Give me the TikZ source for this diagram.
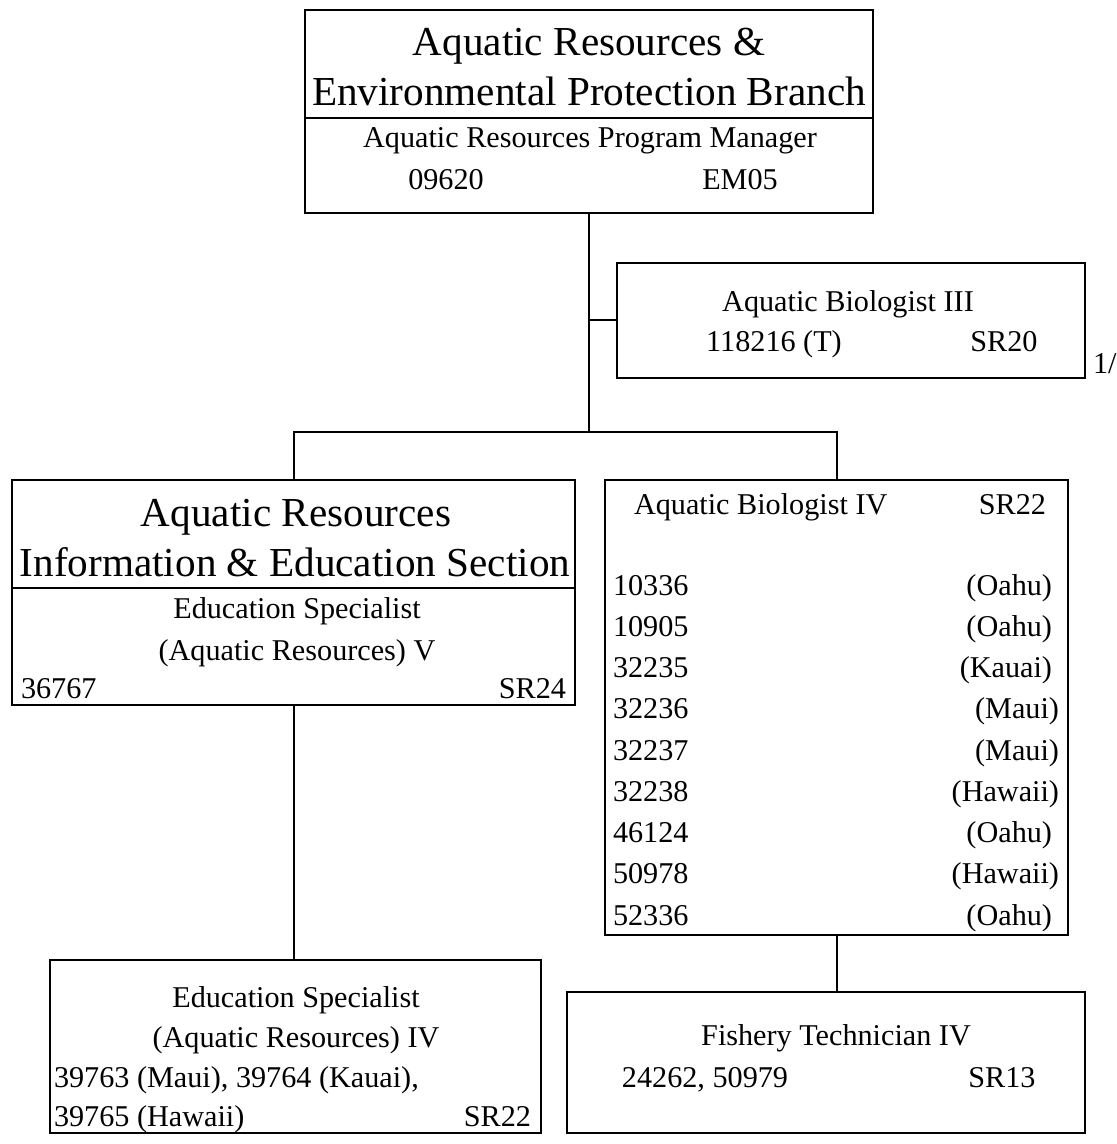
\documentclass[tikz,border=0pt]{standalone}
\usepackage{fontspec}
\setmainfont{Liberation Serif}
\newcommand{\bigtxt}{\fontsize{20.6pt}{24pt}\selectfont}
\newcommand{\smalltxt}{\fontsize{15.1pt}{18pt}\selectfont}

\begin{document}
\begin{tikzpicture}[
    x=0.5pt, y=-0.5pt,
    line width=1pt,
    unit/.style={rectangle, draw, line width=1pt, inner sep=0pt},
    title/.style={anchor=base, inner sep=0pt, font=\bigtxt},
    entry/.style={anchor=base, inner sep=0pt, font=\smalltxt},
    entryL/.style={entry, anchor=base west},
    entryR/.style={entry, anchor=base east}
]
    \useasboundingbox (0,0) rectangle (1116,1144);

    % Branch box
    \node[unit, minimum width=284pt, minimum height=101.5pt] (branch) at (589,111.5) {};
    \draw (branch.west |- 0,118) -- (branch.east |- 0,118);
    \node[title] (branchA) at (589,56) {Aquatic Resources \&};
    \node[title] (branchB) at (589,106) {Environmental Protection Branch};
    \node[entry] (branchC) at (590,148) {Aquatic Resources Program Manager};
    \node[entry] (branchD) at (446,190) {09620};
    \node[entry] (branchE) at (740,190) {EM05};

    % Aquatic Biologist III (staff)
    \node[unit, minimum width=234pt, minimum height=57.5pt] (bio3) at (851,320.5) {};
    \node[entry] (bio3A) at (848,312) {Aquatic Biologist III};
    \node[entry] (bio3B) at (774,351) {118216 (T)};
    \node[entry] (bio3C) at (1004,351) {SR20};
    \node[entryL] (note) at (1092,373) {1/};

    % Section box
    \node[unit, minimum width=281.5pt, minimum height=112.5pt] (sect) at (293.5,592.5) {};
    \draw (sect.west |- 0,588) -- (sect.east |- 0,588);
    \node[title] (sectA) at (296,526) {Aquatic Resources};
    \node[title] (sectB) at (295,576) {Information \& Education Section};
    \node[entry] (sectC) at (297,618) {Education Specialist};
    \node[entry] (sectD) at (297,660) {(Aquatic Resources) V};
    \node[entryL] (sectE) at (20,698) {36767};
    \node[entryR] (sectF) at (567,698) {SR24};

    % Aquatic Biologist IV
    \node[unit, minimum width=231.5pt, minimum height=227.5pt] (bio4) at (836.5,707.5) {};
    \node[entryL] (bio4A) at (633,514) {Aquatic Biologist IV};
    \node[entryR] (bio4B) at (1047,514) {SR22};
    \foreach \num/\isle/\ix [count=\i from 0] in {10336/Oahu/1053, 10905/Oahu/1053,
        32235/Kauai/1053, 32236/Maui/1060, 32237/Maui/1060, 32238/Hawaii/1060,
        46124/Oahu/1053, 50978/Hawaii/1060, 52336/Oahu/1053} {
        \node[entryL] (pos\i) at (612,{595+41.25*\i}) {\num};
        \node[entryR] (isle\i) at (\ix,{595+41.25*\i}) {(\isle)};
    }

    % Education Specialist IV
    \node[unit, minimum width=245.5pt, minimum height=86.5pt] (edu4) at (295.5,1046.5) {};
    \node[entry] (edu4A) at (296,1007) {Education Specialist};
    \node[entry] (edu4B) at (296,1047) {(Aquatic Resources) IV};
    \node[entryL] (edu4C) at (53,1087) {39763 (Maui), 39764 (Kauai),};
    \node[entryL] (edu4D) at (53,1126) {39765 (Hawaii)};
    \node[entryR] (edu4E) at (532,1126) {SR22};

    % Fishery Technician IV
    \node[unit, minimum width=259pt, minimum height=70.5pt] (fish) at (826,1062.5) {};
    \node[entry] (fishA) at (836,1045) {Fishery Technician IV};
    \node[entry] (fishB) at (705,1087) {24262, 50979};
    \node[entry] (fishC) at (1002,1087) {SR13};

    % Connections
    \coordinate (split) at (branch.south |- 0,432);
    \coordinate (tap) at (branch.south |- bio3.west);
    \draw (branch.south) -- (split);
    \draw (tap) -- (bio3.west);
    \draw (split) -| (sect.north);
    \draw (split) -| (bio4.north);
    \draw (sect.south) -- (sect.south |- edu4.north);
    \draw (bio4.south) -- (bio4.south |- fish.north);
\end{tikzpicture}
\end{document}
